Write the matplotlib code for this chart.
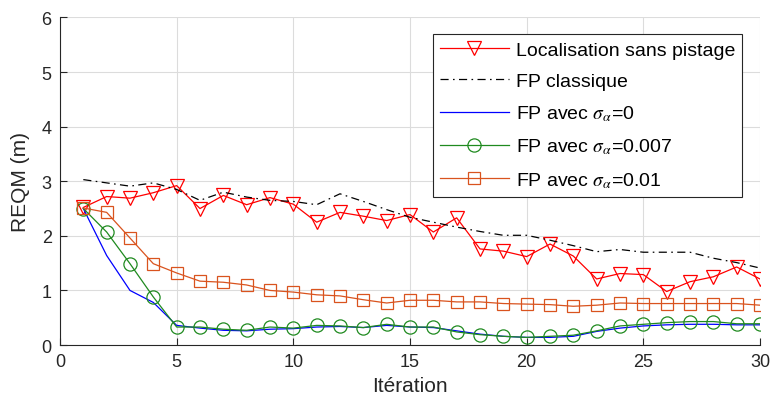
import matplotlib
matplotlib.use("Agg")
import matplotlib.pyplot as plt

plt.rcParams['font.family'] = ['Liberation Sans', 'DejaVu Sans']
plt.rcParams['mathtext.fontset'] = 'stix'

# data
iterations = list(range(1, 31))

sans_pistage = [2.52, 2.72, 2.69, 2.79, 2.92, 2.50, 2.74, 2.57, 2.70, 2.58,
                2.25, 2.43, 2.36, 2.28, 2.39, 2.07, 2.33, 1.76, 1.72, 1.62,
                1.85, 1.63, 1.21, 1.31, 1.29, 0.98, 1.16, 1.25, 1.43, 1.21]

fp_classique = [3.03, 2.97, 2.91, 2.97, 2.85, 2.65, 2.80, 2.71, 2.65, 2.63,
                2.57, 2.77, 2.63, 2.48, 2.34, 2.25, 2.16, 2.08, 2.01, 2.01,
                1.92, 1.82, 1.71, 1.75, 1.70, 1.70, 1.70, 1.59, 1.51, 1.41]

fp_sigma_0 = [2.50, 1.64, 1.00, 0.78, 0.36, 0.31, 0.27, 0.26, 0.29, 0.30,
              0.33, 0.34, 0.32, 0.36, 0.33, 0.32, 0.26, 0.20, 0.16, 0.14,
              0.14, 0.16, 0.25, 0.31, 0.35, 0.37, 0.38, 0.38, 0.37, 0.37]

fp_sigma_007 = [2.50, 2.07, 1.49, 0.88, 0.33, 0.33, 0.29, 0.27, 0.33, 0.31,
                0.36, 0.35, 0.32, 0.38, 0.33, 0.33, 0.24, 0.19, 0.16, 0.14,
                0.16, 0.18, 0.26, 0.35, 0.38, 0.41, 0.43, 0.43, 0.39, 0.39]

fp_sigma_01 = [2.51, 2.43, 1.96, 1.49, 1.32, 1.17, 1.15, 1.10, 1.00, 0.97,
               0.92, 0.90, 0.83, 0.77, 0.82, 0.82, 0.79, 0.79, 0.76, 0.75,
               0.74, 0.71, 0.73, 0.77, 0.76, 0.76, 0.76, 0.76, 0.76, 0.73]

fig = plt.figure(figsize=(7.73, 4.10), dpi=100)
ax = fig.add_axes([0.0776, 0.156, 0.9056, 0.799])

ax.plot(iterations, sans_pistage, color='red', lw=0.9, marker='v', ms=9.5,
        mfc='none', mec='red', mew=0.9, label='Localisation sans pistage')
ax.plot(iterations, fp_classique, color='black', lw=0.9, ls=(0, (6.5, 3.5, 1.3, 3.5)),
        label='FP classique')
ax.plot(iterations, fp_sigma_0, color='blue', lw=0.9,
        label=r'FP avec $\sigma_\alpha$=0')
ax.plot(iterations, fp_sigma_007, color='#1f8a1f', lw=0.9, marker='o', ms=9.5,
        mfc='none', mec='#1f8a1f', mew=0.9, label=r'FP avec $\sigma_\alpha$=0.007')
ax.plot(iterations, fp_sigma_01, color='#d9531e', lw=0.9, marker='s', ms=8.5,
        mfc='none', mec='#d9531e', mew=0.9, label=r'FP avec $\sigma_\alpha$=0.01')

ax.set_xlim(0, 30)
ax.set_ylim(0, 6)
ax.set_xticks([0, 5, 10, 15, 20, 25, 30])
ax.set_yticks([0, 1, 2, 3, 4, 5, 6])
ax.grid(True, color='#dcdcdc', lw=0.8)
ax.set_axisbelow(True)

for s in ['top', 'right']:
    ax.spines[s].set_visible(False)
for s in ['left', 'bottom']:
    ax.spines[s].set_color('#262626')
    ax.spines[s].set_linewidth(0.8)
ax.tick_params(direction='in', length=5, width=0.8, colors='#262626',
               labelsize=13, pad=6)

ax.set_xlabel('Itération', fontsize=15, color='#262626', labelpad=4)
ax.set_ylabel('REQM (m)', fontsize=15, color='#262626', labelpad=8)

leg = ax.legend(loc='upper right', bbox_to_anchor=(0.974, 0.949),
                borderaxespad=0, fontsize=14, handlelength=3.55,
                fancybox=False, framealpha=1, edgecolor='#262626',
                labelspacing=0.7, borderpad=0.35, handletextpad=0.35)
leg.get_frame().set_linewidth(0.8)

fig.savefig('out.png', dpi=100)
